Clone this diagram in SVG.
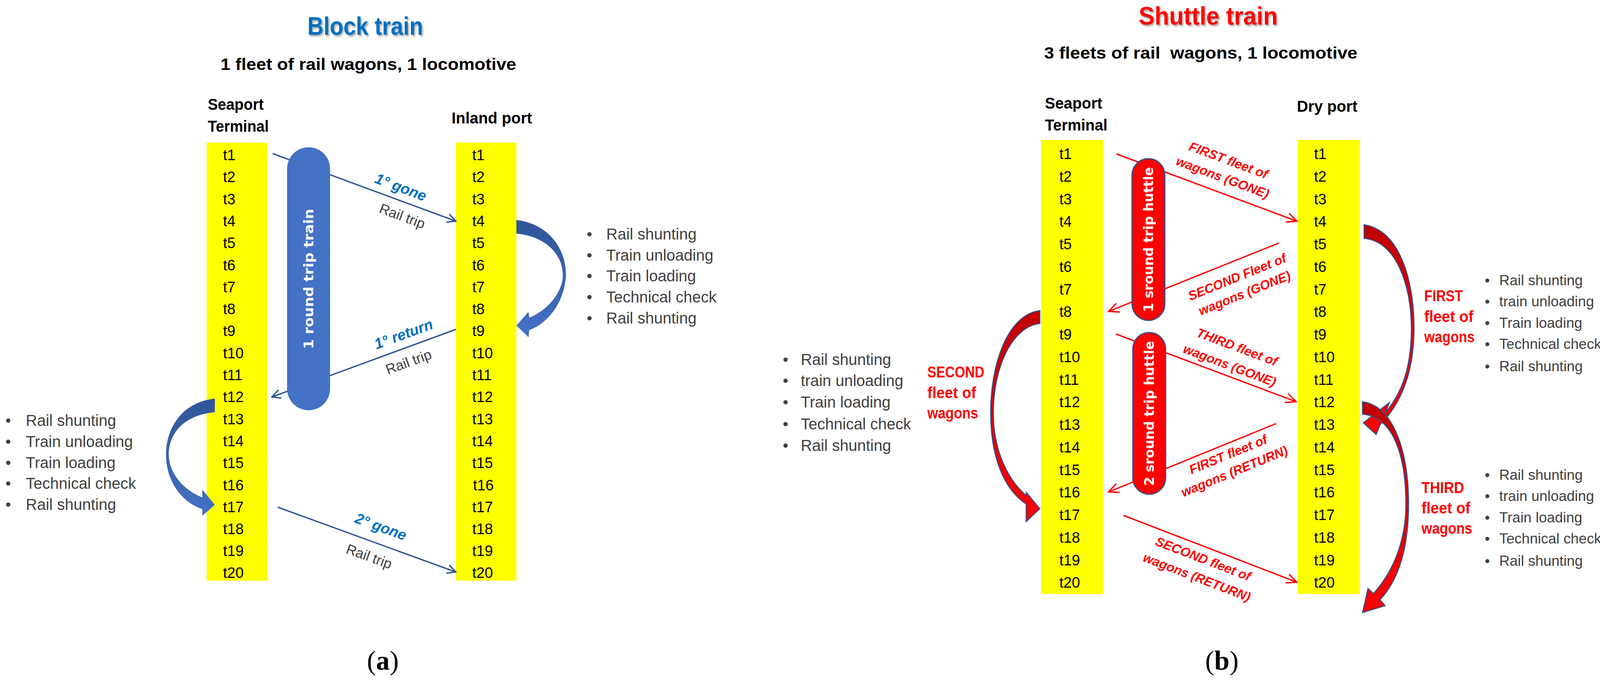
<svg xmlns="http://www.w3.org/2000/svg" width="4168" height="1748" viewBox="0 0 4168 1748">
<defs>
<style>
text{font-family:"Liberation Sans",Arial,sans-serif}
.t{font-size:38px;fill:#000}
.hd{font-size:40px;font-weight:bold;fill:#000}
.li{font-size:40px;fill:#404040}
.li2{font-size:40px;fill:#404040}
.li3{font-size:37px;fill:#404040}
.bl{font-size:38px;font-weight:bold;font-style:italic;fill:#0070C0}
.rt{font-size:36px;fill:#404040}
.rl{font-size:33px;font-weight:bold;font-style:italic;fill:#FF0000}
.rf{font-size:40px;font-weight:bold;fill:#FF0000}
.pt{font-family:"DejaVu Sans",Verdana,sans-serif;font-size:34px;font-weight:bold;fill:#FFFFFF}
.col{fill:#FFFF00}
.lb{stroke:#2F5597;stroke-width:3.5;fill:none}
.lr{stroke:#FF0000;stroke-width:3.5;fill:none}
.cap{font-family:"Liberation Serif","Times New Roman",serif;font-size:70px;fill:#000}
</style>
<filter id="sh" x="-10%" y="-20%" width="130%" height="160%"><feDropShadow dx="3" dy="4" stdDeviation="2" flood-color="#000" flood-opacity="0.35"/></filter>
<marker id="ahB" viewBox="0 0 30 30" refX="28" refY="15" markerWidth="30" markerHeight="30" orient="auto" markerUnits="userSpaceOnUse"><path d="M6,4 L28,15 L6,26" fill="none" stroke="#2F5597" stroke-width="3.5"/></marker>
<marker id="ahR" viewBox="0 0 34 34" refX="32" refY="17" markerWidth="34" markerHeight="34" orient="auto" markerUnits="userSpaceOnUse"><path d="M6,5 L32,17 L6,29" fill="none" stroke="#FF0000" stroke-width="3.5"/></marker>
<linearGradient id="gB" x1="0" y1="0" x2="0" y2="1"><stop offset="0" stop-color="#2F5597"/><stop offset="1" stop-color="#4472C4"/></linearGradient>
<linearGradient id="gR" x1="0" y1="0" x2="0" y2="1"><stop offset="0" stop-color="#C00000"/><stop offset="1" stop-color="#FF0000"/></linearGradient>
</defs>
<rect width="4168" height="1748" fill="#FFFFFF"/>

<!-- ===== Panel (a) Block train ===== -->
<g id="titleA">
<text x="935" y="89" text-anchor="middle" font-size="64" font-weight="bold" fill="#0070C0" textLength="296" lengthAdjust="spacingAndGlyphs" filter="url(#sh)">Block train</text>
<text x="943" y="179" text-anchor="middle" font-size="43" font-weight="bold" fill="#000" textLength="757" lengthAdjust="spacingAndGlyphs">1 fleet of rail wagons, 1 locomotive</text>
</g>
<g id="seaportA">
<text class="hd" x="532" y="281" textLength="143" lengthAdjust="spacingAndGlyphs">Seaport</text>
<text class="hd" x="532" y="337" textLength="156" lengthAdjust="spacingAndGlyphs">Terminal</text>
<rect class="col" x="529" y="365" width="155" height="1121"/>
<text class="t" x="571" y="410">t1</text><text class="t" x="571" y="466">t2</text><text class="t" x="571" y="523">t3</text><text class="t" x="571" y="579">t4</text><text class="t" x="571" y="635">t5</text>
<text class="t" x="571" y="692">t6</text><text class="t" x="571" y="748">t7</text><text class="t" x="571" y="804">t8</text><text class="t" x="571" y="860">t9</text><text class="t" x="571" y="917">t10</text>
<text class="t" x="571" y="973">t11</text><text class="t" x="571" y="1029">t12</text><text class="t" x="571" y="1086">t13</text><text class="t" x="571" y="1142">t14</text><text class="t" x="571" y="1198">t15</text>
<text class="t" x="571" y="1255">t16</text><text class="t" x="571" y="1311">t17</text><text class="t" x="571" y="1367">t18</text><text class="t" x="571" y="1423">t19</text><text class="t" x="571" y="1479">t20</text>
</g>
<g id="inlandA">
<text class="hd" x="1156" y="316" textLength="206" lengthAdjust="spacingAndGlyphs">Inland port</text>
<rect class="col" x="1167" y="365" width="155" height="1121"/>
<text class="t" x="1209" y="410">t1</text><text class="t" x="1209" y="466">t2</text><text class="t" x="1209" y="523">t3</text><text class="t" x="1209" y="579">t4</text><text class="t" x="1209" y="635">t5</text>
<text class="t" x="1209" y="692">t6</text><text class="t" x="1209" y="748">t7</text><text class="t" x="1209" y="804">t8</text><text class="t" x="1209" y="860">t9</text><text class="t" x="1209" y="917">t10</text>
<text class="t" x="1209" y="973">t11</text><text class="t" x="1209" y="1029">t12</text><text class="t" x="1209" y="1086">t13</text><text class="t" x="1209" y="1142">t14</text><text class="t" x="1209" y="1198">t15</text>
<text class="t" x="1211" y="1255">t16</text><text class="t" x="1209" y="1311">t17</text><text class="t" x="1209" y="1367">t18</text><text class="t" x="1209" y="1423">t19</text><text class="t" x="1209" y="1479">t20</text>
</g>
<g id="connectorsA">
<line class="lb" x1="698" y1="393" x2="1167" y2="566" marker-end="url(#ahB)"/>
<line class="lb" x1="1167" y1="843" x2="696" y2="1016" marker-end="url(#ahB)"/>
<line class="lb" x1="711" y1="1298" x2="1167" y2="1464" marker-end="url(#ahB)"/>
<path fill="url(#gB)" d="M1322,563 C1420,575 1458,660 1447,722 C1438,782 1400,828 1355,845 L1353,863 L1322,833 L1353,798 L1355,813 C1395,797 1432,760 1440,716 C1448,662 1405,605 1322,598 Z"/>
<path fill="url(#gB)" d="M550,1020 C462,1030 425,1100 425,1163 C425,1232 465,1285 518,1303 L518,1320 L550,1292 L518,1253 L518,1273 C472,1256 432,1212 432,1163 C432,1110 470,1062 550,1055 Z"/>
</g>
<g id="pillA">
<rect x="735" y="377" width="110" height="673" rx="55" ry="55" fill="#4472C4"/>
<text class="pt" transform="translate(790,714) rotate(-90)" text-anchor="middle" dominant-baseline="central" textLength="359" lengthAdjust="spacingAndGlyphs">1 round trip train</text>
</g>
<g id="labelsA">
<text class="bl" transform="translate(1026,479) rotate(20.5)" text-anchor="middle" dominant-baseline="central">1° gone</text>
<text class="rt" transform="translate(1030,553) rotate(20.5)" text-anchor="middle" dominant-baseline="central">Rail trip</text>
<text class="bl" transform="translate(1033,855) rotate(-20.2)" text-anchor="middle" dominant-baseline="central">1° return</text>
<text class="rt" transform="translate(1046,926) rotate(-20.2)" text-anchor="middle" dominant-baseline="central">Rail trip</text>
<text class="bl" transform="translate(975,1348) rotate(20)" text-anchor="middle" dominant-baseline="central">2° gone</text>
<text class="rt" transform="translate(945,1424) rotate(20)" text-anchor="middle" dominant-baseline="central">Rail trip</text>
</g>
<g id="listA1">
<text class="li" x="1502" y="613">•</text><text class="li" x="1552" y="613">Rail shunting</text>
<text class="li" x="1502" y="667">•</text><text class="li" x="1552" y="667">Train unloading</text>
<text class="li" x="1502" y="720">•</text><text class="li" x="1552" y="720">Train loading</text>
<text class="li" x="1502" y="774">•</text><text class="li" x="1552" y="774">Technical check</text>
<text class="li" x="1502" y="828">•</text><text class="li" x="1552" y="828">Rail shunting</text>
</g>
<g id="listA2">
<text class="li" x="14" y="1090">•</text><text class="li" x="66" y="1090">Rail shunting</text>
<text class="li" x="14" y="1144">•</text><text class="li" x="66" y="1144">Train unloading</text>
<text class="li" x="14" y="1198">•</text><text class="li" x="66" y="1198">Train loading</text>
<text class="li" x="14" y="1251">•</text><text class="li" x="66" y="1251">Technical check</text>
<text class="li" x="14" y="1305">•</text><text class="li" x="66" y="1305">Rail shunting</text>
</g>
<text class="cap" x="980" y="1714" text-anchor="middle">(<tspan font-weight="bold">a</tspan>)</text>

<!-- ===== Panel (b) Shuttle train ===== -->
<g id="titleB">
<text x="3093" y="63" text-anchor="middle" font-size="64" font-weight="bold" fill="#FF0000" textLength="356" lengthAdjust="spacingAndGlyphs" filter="url(#sh)">Shuttle train</text>
<text x="3074" y="150" text-anchor="middle" font-size="43" font-weight="bold" fill="#000" textLength="802" lengthAdjust="spacingAndGlyphs" style="white-space:pre">3 fleets of rail  wagons, 1 locomotive</text>
</g>
<g id="seaportB">
<text class="hd" x="2675" y="278" textLength="147" lengthAdjust="spacingAndGlyphs">Seaport</text>
<text class="hd" x="2675" y="334" textLength="160" lengthAdjust="spacingAndGlyphs">Terminal</text>
<rect class="col" x="2665" y="358" width="159" height="1162"/>
<text class="t" x="2712" y="407">t1</text><text class="t" x="2712" y="465">t2</text><text class="t" x="2712" y="523">t3</text><text class="t" x="2712" y="580">t4</text><text class="t" x="2712" y="638">t5</text>
<text class="t" x="2712" y="696">t6</text><text class="t" x="2712" y="754">t7</text><text class="t" x="2712" y="811">t8</text><text class="t" x="2712" y="869">t9</text><text class="t" x="2712" y="927">t10</text>
<text class="t" x="2712" y="985">t11</text><text class="t" x="2712" y="1042">t12</text><text class="t" x="2712" y="1100">t13</text><text class="t" x="2712" y="1158">t14</text><text class="t" x="2712" y="1216">t15</text>
<text class="t" x="2712" y="1273">t16</text><text class="t" x="2712" y="1331">t17</text><text class="t" x="2712" y="1389">t18</text><text class="t" x="2712" y="1447">t19</text><text class="t" x="2712" y="1504">t20</text>
</g>
<g id="dryportB">
<text class="hd" x="3320" y="286" textLength="155" lengthAdjust="spacingAndGlyphs">Dry port</text>
<rect class="col" x="3322" y="358" width="159" height="1162"/>
<text class="t" x="3364" y="407">t1</text><text class="t" x="3364" y="465">t2</text><text class="t" x="3364" y="523">t3</text><text class="t" x="3364" y="580">t4</text><text class="t" x="3364" y="638">t5</text>
<text class="t" x="3364" y="696">t6</text><text class="t" x="3364" y="754">t7</text><text class="t" x="3364" y="811">t8</text><text class="t" x="3364" y="869">t9</text><text class="t" x="3364" y="927">t10</text>
<text class="t" x="3364" y="985">t11</text><text class="t" x="3364" y="1042">t12</text><text class="t" x="3364" y="1100">t13</text><text class="t" x="3364" y="1158">t14</text><text class="t" x="3364" y="1216">t15</text>
<text class="t" x="3364" y="1273">t16</text><text class="t" x="3364" y="1331">t17</text><text class="t" x="3364" y="1389">t18</text><text class="t" x="3364" y="1447">t19</text><text class="t" x="3364" y="1504">t20</text>
</g>
<g id="connectorsB">
<line class="lr" x1="2858" y1="394" x2="3320" y2="566" marker-end="url(#ahR)"/>
<line class="lr" x1="3274" y1="622" x2="2838" y2="797" marker-end="url(#ahR)"/>
<line class="lr" x1="2857" y1="855" x2="3318" y2="1028" marker-end="url(#ahR)"/>
<line class="lr" x1="3267" y1="1084" x2="2838" y2="1259" marker-end="url(#ahR)"/>
<line class="lr" x1="2876" y1="1319" x2="3320" y2="1490" marker-end="url(#ahR)"/>
<path fill="url(#gR)" stroke="#2F528F" stroke-width="2.5" d="M2662,795 C2580,805 2536,930 2536,1056 C2536,1170 2570,1252 2627,1290 L2627,1335 L2662,1302 L2627,1260 L2627,1268 C2585,1232 2543,1160 2543,1056 C2543,942 2590,836 2662,828 Z"/>
<path fill="url(#gR)" stroke="#2F528F" stroke-width="2.5" d="M3492,575 C3585,590 3620,720 3620,840 C3620,950 3590,1030 3533,1087 L3523,1112 L3490,1082 L3557,1030 L3547,1055 C3594,1000 3613,930 3613,840 C3613,732 3575,617 3492,610 Z"/>
<path fill="url(#gR)" stroke="#2F528F" stroke-width="2.5" d="M3488,1028 C3572,1040 3606,1165 3606,1290 C3606,1400 3582,1482 3533,1535 L3546,1550 L3488,1568 L3502,1506 L3516,1519 C3562,1468 3599,1392 3599,1290 C3599,1170 3568,1066 3488,1060 Z"/>
</g>
<g id="pillB1">
<rect x="2898" y="406" width="84" height="414" rx="42" ry="42" fill="#FF0000" stroke="#2F528F" stroke-width="3"/>
<text class="pt" transform="translate(2940,613) rotate(-90)" text-anchor="middle" dominant-baseline="central" textLength="371" lengthAdjust="spacingAndGlyphs">1 sround trip huttle</text>
</g>
<g id="pillB2">
<rect x="2900" y="851" width="84" height="414" rx="42" ry="42" fill="#FF0000" stroke="#2F528F" stroke-width="3"/>
<text class="pt" transform="translate(2942,1058) rotate(-90)" text-anchor="middle" dominant-baseline="central" textLength="371" lengthAdjust="spacingAndGlyphs">2 sround trip huttle</text>
</g>
<g id="labelsB">
<text class="rl" transform="translate(3145,410) rotate(20.4)" text-anchor="middle" dominant-baseline="central">FIRST fleet of</text>
<text class="rl" transform="translate(3130,454) rotate(20.4)" text-anchor="middle" dominant-baseline="central">wagons (GONE)</text>
<text class="rl" transform="translate(3167,709) rotate(-22)" text-anchor="middle" dominant-baseline="central">SECOND Fleet of</text>
<text class="rl" transform="translate(3186,750) rotate(-22)" text-anchor="middle" dominant-baseline="central">wagons (GONE)</text>
<text class="rl" transform="translate(3167,888) rotate(20.6)" text-anchor="middle" dominant-baseline="central">THIRD fleet of</text>
<text class="rl" transform="translate(3148,935) rotate(20.6)" text-anchor="middle" dominant-baseline="central">wagons (GONE)</text>
<text class="rl" transform="translate(3144,1163) rotate(-22.3)" text-anchor="middle" dominant-baseline="central">FIRST fleet of</text>
<text class="rl" transform="translate(3160,1206) rotate(-22.3)" text-anchor="middle" dominant-baseline="central">wagons (RETURN)</text>
<text class="rl" transform="translate(3080,1430) rotate(21)" text-anchor="middle" dominant-baseline="central">SECOND fleet of</text>
<text class="rl" transform="translate(3064,1477) rotate(21)" text-anchor="middle" dominant-baseline="central">wagons (RETURN)</text>
</g>
<g id="fleetLabels">
<text class="rf" x="2374" y="966" textLength="146" lengthAdjust="spacingAndGlyphs">SECOND</text>
<text class="rf" x="2374" y="1019" textLength="125" lengthAdjust="spacingAndGlyphs">fleet of</text>
<text class="rf" x="2374" y="1071" textLength="130" lengthAdjust="spacingAndGlyphs">wagons</text>
<text class="rf" x="3646" y="771" textLength="99" lengthAdjust="spacingAndGlyphs">FIRST</text>
<text class="rf" x="3646" y="824" textLength="126" lengthAdjust="spacingAndGlyphs">fleet of</text>
<text class="rf" x="3646" y="876" textLength="129" lengthAdjust="spacingAndGlyphs">wagons</text>
<text class="rf" x="3639" y="1262" textLength="109" lengthAdjust="spacingAndGlyphs">THIRD</text>
<text class="rf" x="3639" y="1314" textLength="125" lengthAdjust="spacingAndGlyphs">fleet of</text>
<text class="rf" x="3639" y="1366" textLength="130" lengthAdjust="spacingAndGlyphs">wagons</text>
</g>
<g id="listB0">
<text class="li2" x="2004" y="934">•</text><text class="li2" x="2050" y="934">Rail shunting</text>
<text class="li2" x="2004" y="988">•</text><text class="li2" x="2050" y="988">train unloading</text>
<text class="li2" x="2004" y="1043">•</text><text class="li2" x="2050" y="1043">Train loading</text>
<text class="li2" x="2004" y="1099">•</text><text class="li2" x="2050" y="1099">Technical check</text>
<text class="li2" x="2004" y="1154">•</text><text class="li2" x="2050" y="1154">Rail shunting</text>
</g>
<g id="listB1">
<text class="li3" x="3801" y="730">•</text><text class="li3" x="3838" y="730">Rail shunting</text>
<text class="li3" x="3801" y="784">•</text><text class="li3" x="3838" y="784">train unloading</text>
<text class="li3" x="3801" y="839">•</text><text class="li3" x="3838" y="839">Train loading</text>
<text class="li3" x="3801" y="893">•</text><text class="li3" x="3838" y="893">Technical check</text>
<text class="li3" x="3801" y="950">•</text><text class="li3" x="3838" y="950">Rail shunting</text>
</g>
<g id="listB2">
<text class="li3" x="3801" y="1228">•</text><text class="li3" x="3838" y="1228">Rail shunting</text>
<text class="li3" x="3801" y="1282">•</text><text class="li3" x="3838" y="1282">train unloading</text>
<text class="li3" x="3801" y="1337">•</text><text class="li3" x="3838" y="1337">Train loading</text>
<text class="li3" x="3801" y="1391">•</text><text class="li3" x="3838" y="1391">Technical check</text>
<text class="li3" x="3801" y="1448">•</text><text class="li3" x="3838" y="1448">Rail shunting</text>
</g>
<text class="cap" x="3128" y="1714" text-anchor="middle">(<tspan font-weight="bold">b</tspan>)</text>
</svg>
